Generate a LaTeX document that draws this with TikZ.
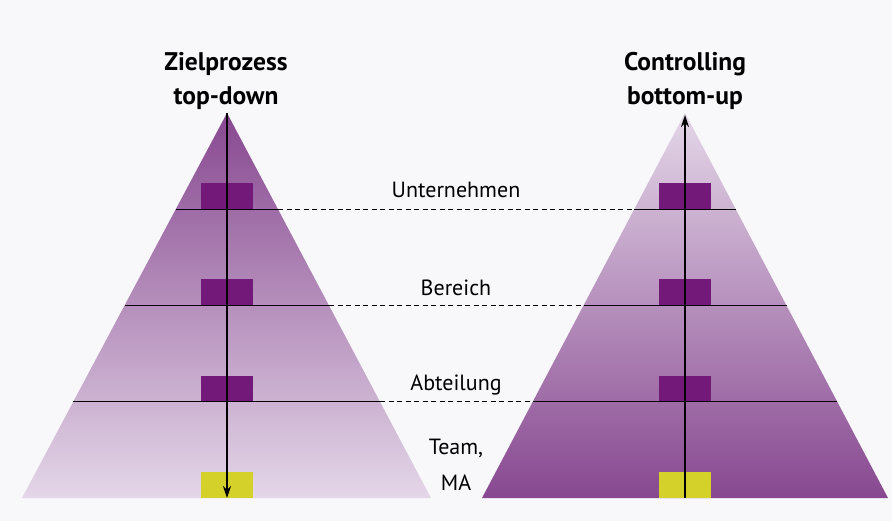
\documentclass[tikz,border=0pt]{standalone}
\usepackage{fontspec}
\setmainfont{PT Sans}
\usetikzlibrary{calc,arrows.meta}
\definecolor{bg}{HTML}{F8F8FA}
\definecolor{pdark}{HTML}{874890}
\definecolor{plight}{HTML}{E4D7E8}
\definecolor{sq}{HTML}{73197A}
\definecolor{yel}{HTML}{D4D22A}
\begin{document}
\begin{tikzpicture}[x=1pt,y=-1pt,
  box/.style={fill=sq,minimum width=52pt,minimum height=26pt,inner sep=0pt,anchor=south},
  ybox/.style={box,fill=yel},
  lvl/.style={black,line width=1.4pt},
  dsh/.style={black,line width=1.3pt,dash pattern=on 5pt off 3.5pt},
  lab/.style={font=\fontsize{22}{26}\selectfont,inner sep=0pt},
  ttl/.style={font=\bfseries\fontsize{25.5}{34}\selectfont,align=center,inner sep=0pt},
  axis/.style={black,line width=1.4pt,-{Stealth[length=12pt,width=8pt]}}]
\fill[bg] (0,0) rectangle (892,521);
\coordinate (aL) at (227,113);
\coordinate (lL) at (22,498);
\coordinate (rL) at (431,498);
\coordinate (aR) at (685,113);
\coordinate (lR) at (482,498);
\coordinate (rR) at (888,498);
\coordinate (bL) at (227,498);
\coordinate (bR) at (685,498);
\shade[top color=pdark,bottom color=plight] (aL) -- (lL) -- (rL) -- cycle;
\shade[top color=plight,bottom color=pdark] (aR) -- (lR) -- (rR) -- cycle;
% level points
\foreach \t/\n in {0.25/1,0.5/2,0.75/3}{
  \coordinate (L\n a) at ($(aL)!\t!(lL)$);
  \coordinate (L\n b) at ($(aL)!\t!(rL)$);
  \coordinate (R\n a) at ($(aR)!\t!(lR)$);
  \coordinate (R\n b) at ($(aR)!\t!(rR)$);
}
\foreach \n in {1,2,3}{
  \node[box] (sL\n) at ($(L\n a)!0.5!(L\n b)$) {};
  \node[box] (sR\n) at ($(R\n a)!0.5!(R\n b)$) {};
}
\node[ybox] (sL4) at (bL) {};
\node[ybox] (sR4) at (bR) {};
\foreach \n in {1,2,3}{
  \draw[lvl] (L\n a) -- (L\n b);
  \draw[lvl] (R\n a) -- (R\n b);
  \draw[dsh] (L\n b) -- (R\n a);
}
\draw[axis] (aL) -- (bL);
\draw[axis] (bR) -- ($(aR)+(0,2)$);
\node[lab] (u) at (456,190) {Unternehmen};
\node[lab] (b) at (456,288) {Bereich};
\node[lab] (a) at (456,385) {Abteilung};
\node[lab,align=center,font=\fontsize{22}{36}\selectfont] (t) at (456,465) {Team,\\MA};
\node[ttl] (z) at (226,81) {Zielprozess\\top-down};
\node[ttl] (c) at (685,81) {Controlling\\bottom-up};
\end{tikzpicture}
\end{document}
